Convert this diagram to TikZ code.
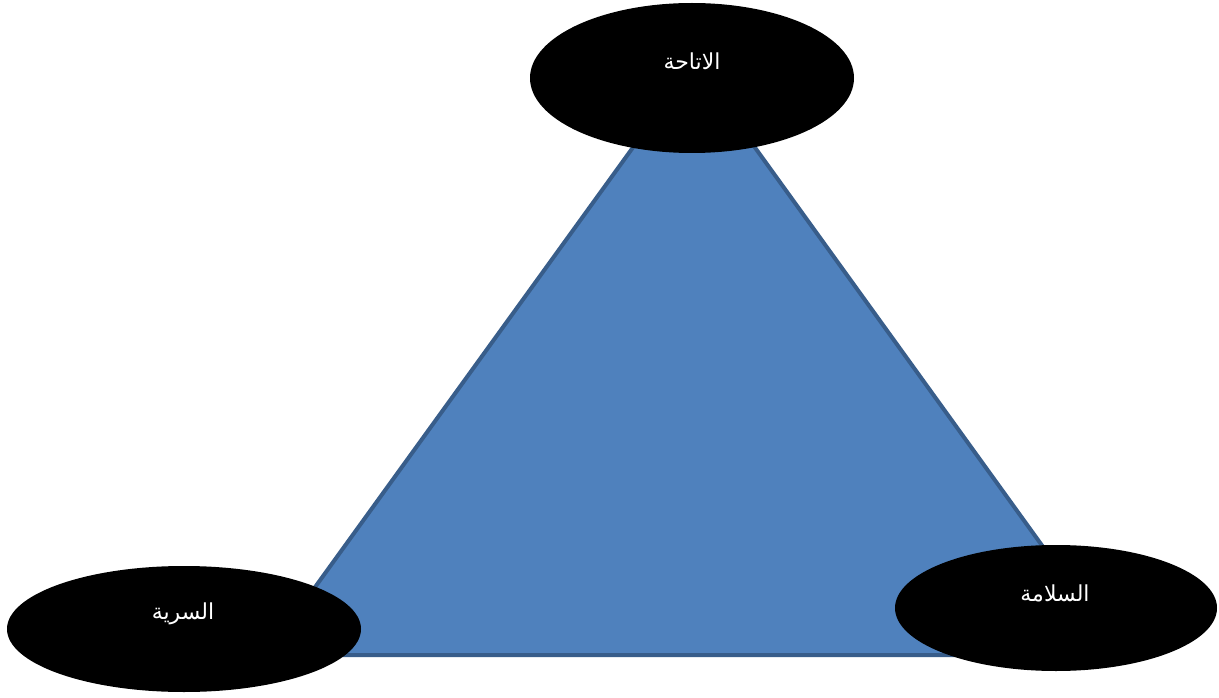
\documentclass[tikz,border=0pt]{standalone}
\usepackage{fontspec}
\newfontfamily\arabicfont[Script=Arabic]{DejaVu Sans}
\TeXXeTstate=1
\definecolor{trifill}{HTML}{4F81BD}
\definecolor{triline}{HTML}{385D8A}
\begin{document}
\begin{tikzpicture}[x=1pt,y=-1pt,
  lbl/.style={text=white, font=\arabicfont\fontsize{22}{26}\selectfont, inner sep=0pt}]
\useasboundingbox (0,0) rectangle (1219,698);
\coordinate (apex) at (694,63);
\coordinate (bl) at (266,655);
\coordinate (br) at (1121,655);
\draw[fill=trifill, draw=triline, line width=4pt, line join=miter] (apex) -- (br) -- (bl) -- cycle;
\fill (692,78) ellipse [x radius=162, y radius=75];
\fill (184,629) ellipse [x radius=177, y radius=63];
\fill (1056,608) ellipse [x radius=161, y radius=63];
\node[lbl] (top) at (692,61) {\beginR الاتاحة\endR};
\node[lbl] (left) at (183,614) {\beginR السرية\endR};
\node[lbl] (right) at (1055,593) {\beginR السلامة\endR};
\end{tikzpicture}
\end{document}
